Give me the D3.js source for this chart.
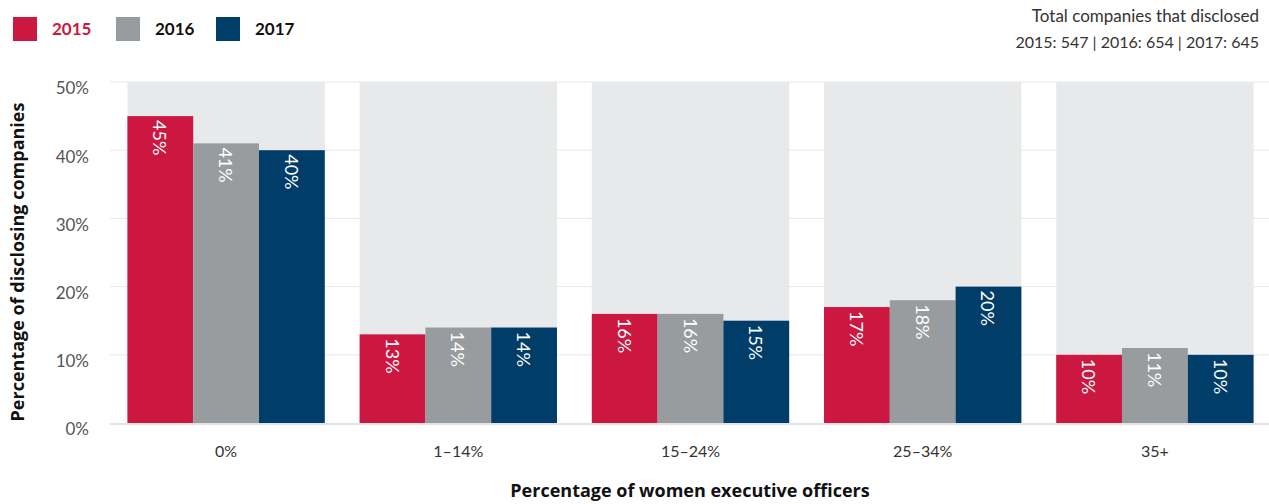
<!DOCTYPE html>
<html><head><meta charset="utf-8">
<script src="https://cdn.jsdelivr.net/npm/d3@7"></script>
<style>body{margin:0;background:#fff}svg{display:block;font-family:Lato,"Open Sans",sans-serif}</style>
</head><body><svg id="c" width="1269" height="504"></svg>
<script>
const categories = ["0%", "1–14%", "15–24%", "25–34%", "35+"];
const years = ["2015", "2016", "2017"];
const values2015 = [45, 13, 16, 17, 10];
const values2016 = [41, 14, 16, 18, 11];
const values2017 = [40, 14, 15, 20, 10];
const yTicks = [0, 10, 20, 30, 40, 50];
const colors = ["#CC1840", "#989C9F", "#003D68"];
const totals = "2015: 547 | 2016: 654 | 2017: 645";

const series = [values2015, values2016, values2017];
const svg = d3.select("#c");
const x0 = d3.scaleBand().domain(categories).range([110, 1271]).paddingInner(0.15).paddingOuter(0.075);
const x1 = d3.scaleBand().domain(years).range([0, x0.bandwidth()]);
const y = d3.scaleLinear().domain([0, 50]).range([423, 82]);

// gridlines
svg.append("g").selectAll("line").data(yTicks.slice(1)).join("line")
  .attr("x1", 110).attr("x2", 1271).attr("y1", d => y(d)).attr("y2", d => y(d))
  .attr("stroke", "#e8e8e8").attr("stroke-width", 1);

// background bands
svg.append("g").selectAll("rect").data(categories).join("rect")
  .attr("x", d => x0(d)).attr("width", x0.bandwidth())
  .attr("y", y(50)).attr("height", y(0) - y(50)).attr("fill", "#E8E9EB");

// baseline
svg.append("line").attr("x1", 110).attr("x2", 1271).attr("y1", y(0) + 1).attr("y2", y(0) + 1)
  .attr("stroke", "#e3e3e3").attr("stroke-width", 2);

// bars
const groups = svg.append("g").selectAll("g").data(categories).join("g")
  .attr("transform", d => `translate(${x0(d)},0)`);
const bars = groups.selectAll("g").data((d, i) => years.map((yr, k) => ({yr, k, v: series[k][i]}))).join("g");
bars.append("rect")
  .attr("x", d => x1(d.yr)).attr("width", x1.bandwidth())
  .attr("y", d => y(d.v)).attr("height", d => y(0) - y(d.v))
  .attr("fill", d => colors[d.k]);
bars.append("text")
  .attr("transform", d => `translate(${x1(d.yr) + x1.bandwidth() / 2 - 7},${y(d.v) + 4}) rotate(90)`)
  .attr("fill", "#fff").attr("font-size", 18).attr("text-anchor", "start")
  .text(d => d.v + "%");

// y axis labels
const yAxis = d3.axisLeft(y).tickValues(yTicks).tickFormat(d => d + "%").tickSize(0);
const ya = svg.append("g").attr("transform", "translate(92,0)").call(yAxis);
ya.select(".domain").remove();
ya.selectAll("text").attr("font-size", 17).attr("fill", "#555").attr("font-family", "Lato,sans-serif").attr("dy", "0.7em").attr("dx", 0);

// x axis labels
const xAxis = d3.axisBottom(x0).tickSize(0);
const xa = svg.append("g").attr("transform", "translate(0,443)").call(xAxis);
xa.select(".domain").remove();
xa.selectAll("text").attr("font-size", 16).attr("fill", "#333").attr("font-family", "Lato,sans-serif");

// axis titles
svg.append("text").attr("x", 690).attr("y", 497).attr("text-anchor", "middle")
  .attr("font-size", 18).attr("font-weight", "bold").attr("fill", "#111").attr("font-family", "'Open Sans',sans-serif")
  .text("Percentage of women executive officers");
svg.append("text").attr("transform", "translate(24,262) rotate(-90)").attr("text-anchor", "middle")
  .attr("font-size", 18).attr("font-weight", "bold").attr("fill", "#111").attr("font-family", "'Open Sans',sans-serif")
  .text("Percentage of disclosing companies");

// legend
const legX = [13, 116, 216];
const lg = svg.append("g").selectAll("g").data(years).join("g")
  .attr("transform", (d, i) => `translate(${legX[i]},17)`);
lg.append("rect").attr("width", 24).attr("height", 24).attr("fill", (d, i) => colors[i]);
lg.append("text").attr("x", 39).attr("y", 18).attr("font-size", 17).attr("font-weight", "bold")
  .attr("fill", (d, i) => i === 0 ? colors[0] : "#111").text(d => d);

// top right note
svg.append("text").attr("x", 1259).attr("y", 22).attr("text-anchor", "end")
  .attr("font-size", 17).attr("fill", "#333").text("Total companies that disclosed");
svg.append("text").attr("x", 1259).attr("y", 48).attr("text-anchor", "end")
  .attr("font-size", 16).attr("fill", "#333").text(totals);
</script></body></html>
